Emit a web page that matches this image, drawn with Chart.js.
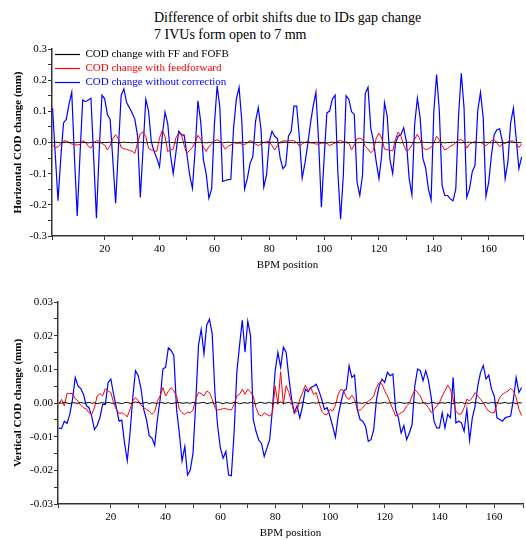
<!DOCTYPE html>
<html>
<head>
<meta charset="utf-8">
<script src="https://cdn.jsdelivr.net/npm/chart.js@4.4.1/dist/chart.umd.min.js"></script>
<style>
  body { margin: 0; background: #fff; }
  #wrap { position: relative; width: 526px; height: 540px; overflow: hidden; background: #fff; }
  #title { position: absolute; left: 154px; top: 9px; font: 14px "Liberation Serif", serif; line-height: 17px; color: #000; white-space: nowrap; }
  #topChart { position: absolute; left: 0; top: 40px; }
  #bottomChart { position: absolute; left: 0; top: 292px; }
</style>
</head>
<body>
<div id="wrap">
  <div id="title">Difference of orbit shifts due to IDs gap change<br>7 IVUs form open to 7 mm</div>
  <canvas id="topChart" width="526" height="232"></canvas>
  <canvas id="bottomChart" width="526" height="248"></canvas>
</div>
<script>
// series names
const seriesNames = ['COD change with FF and FOFB', 'COD change with feedforward', 'COD change without correction'];

// horizontal COD change (mm), BPM 1..172
const hBlack = [
  0,0.001,0,-0.001,0,0.001,0,0,-0.001,0,
  0.001,0,0,-0.001,0,0.001,0,-0.001,0,0,
  0,0.001,0,0,-0.001,0,0.001,0,0,-0.001,
  0,0,0.001,0,-0.001,0,0,0.001,0,0,
  -0.001,0,0.001,0,0,-0.001,0,0,0.001,0,
  0,-0.001,0,0.001,0,0,-0.001,0,0.001,0,
  0,0,-0.001,0,0.001,0,0,-0.001,0,0.001,
  0,0,0.001,-0.001,0,0,0.001,0,-0.001,0,
  0.001,0,0,-0.001,0,0.001,0,0,-0.001,0,
  0,0.001,0,0,-0.001,0,0.001,0,0,0,
  -0.001,0,0.001,0,0,-0.001,0,0.001,0,0,
  0,-0.001,0,0,0.001,0,-0.001,0,0,0.001,
  0,0,-0.001,0,0.001,0,0,-0.001,0,0,
  0.001,0,0,-0.001,0,0.001,0,0,-0.001,0,
  0,0.001,0,-0.001,0,0,0.001,0,0,-0.001,
  0,0,0.001,0,-0.001,0,0,0.001,0,0,
  -0.001,0,0.001,0,0,-0.001,0,0.001,0,0,
  0,-0.001
];
const hRed = [
  -0.008,-0.016,-0.014,-0.005,0.005,0.005,0,-0.005,-0.007,-0.008,
  -0.006,0.006,0.001,-0.012,-0.018,-0.002,0.006,0.004,-0.003,-0.008,
  -0.024,-0.01,0.012,0.025,0.012,-0.016,-0.02,-0.022,-0.025,-0.028,
  -0.035,0,0.028,0.034,0.019,-0.019,-0.024,-0.026,-0.029,0.015,
  0.038,0.02,-0.029,-0.024,-0.021,0.015,0.03,0.025,-0.01,-0.035,
  -0.024,-0.016,0,0.023,0.01,-0.015,-0.029,-0.013,-0.005,0.005,
  0.009,0.004,-0.008,-0.022,-0.012,-0.008,0,-0.002,-0.002,-0.005,
  -0.007,-0.001,0.006,0.003,-0.005,-0.01,-0.005,0,0.003,0.003,
  -0.01,-0.024,-0.01,0.002,0.005,0.005,0.005,0.006,0.006,0,
  -0.012,-0.004,0,0.005,0,-0.002,-0.005,-0.005,-0.002,-0.002,
  -0.003,-0.01,-0.005,-0.002,0.004,0.006,0.003,-0.001,-0.002,-0.024,
  -0.008,0.012,0.014,0.01,-0.013,-0.021,-0.033,-0.025,0.014,0.03,
  0.014,-0.021,-0.023,-0.025,-0.027,0.01,0.034,0.02,-0.008,-0.027,
  -0.022,-0.008,0.01,0.027,0.009,-0.015,-0.024,-0.02,-0.016,-0.002,
  0.02,0.009,-0.01,-0.024,-0.019,-0.012,-0.008,0,0.008,0.009,
  0.003,-0.018,-0.005,0,0.003,0,0,-0.005,-0.01,-0.002,
  0.006,0.009,-0.002,-0.013,-0.005,-0.002,0.003,0.005,0.005,-0.002,
  -0.016,-0.005
];
const hBlue = [
  0.11,-0.04,-0.187,-0.05,0.063,0.074,0.123,0.161,-0.05,-0.236,
  -0.04,0.136,0.131,0.136,0.142,-0.05,-0.243,-0.03,0.152,0.14,
  0.09,0.074,-0.06,-0.195,-0.02,0.15,0.172,0.128,0.112,0.095,
  0.075,0.02,-0.176,-0.02,0.139,0.101,0.003,-0.029,-0.05,-0.078,
  0.02,0.098,0.06,-0.04,-0.1,-0.03,0.036,0.025,0.023,-0.04,
  -0.105,-0.147,-0.02,0.134,0.068,-0.056,-0.1,-0.179,-0.149,0.058,
  0.182,0.112,-0.125,-0.122,-0.119,-0.118,0.047,0.139,0.177,0.068,
  -0.149,-0.116,-0.067,-0.046,0.068,0.112,0.041,-0.143,-0.105,0.003,
  0.036,0.02,0.012,-0.051,-0.084,-0.073,0.02,0.036,0.117,0.117,
  0.014,-0.114,-0.067,-0.008,0.06,0.117,0.161,0.003,-0.208,-0.051,
  0.095,0.101,0.139,0.152,-0.094,-0.246,-0.105,0.15,0.139,0.099,
  0.09,-0.127,-0.17,-0.105,0.157,0.177,0.047,0.003,-0.062,-0.116,
  -0.04,0.128,0.085,-0.056,-0.1,-0.002,0.02,0.025,0.047,0.003,
  -0.116,-0.168,0.058,0.142,0.079,-0.051,-0.081,-0.149,-0.184,0.101,
  0.218,0.101,-0.138,-0.17,-0.17,-0.181,-0.187,-0.149,0.085,0.222,
  0.112,-0.176,-0.149,-0.094,-0.073,0.101,0.161,0.079,-0.173,-0.127,
  -0.04,0.025,0.041,0.044,0.003,-0.116,-0.062,0.063,0.11,0.014,
  -0.084,-0.046
];

// vertical COD change (mm), BPM 1..170
const vBlack = [
  0.0001,-0.0001,0.0002,0,-0.0002,0.0001,0,-0.0001,0.0002,-0.0001,
  0,0.0002,-0.0001,0.0001,-0.0002,0,0.0001,-0.0001,0.0002,0,
  -0.0001,0.0001,0,-0.0002,0.0001,0.0002,-0.0001,0,0.0003,0.0001,
  -0.0001,0,0.0002,-0.0002,0.0001,0,-0.0001,0.0002,0,-0.0001,
  0.0001,-0.0002,0,0.0001,0.0002,-0.0001,0,0.0001,-0.0001,0.0002,
  0,-0.0001,0.0001,0.0002,-0.0002,0,0.0001,-0.0001,0.0003,0,
  -0.0002,0.0001,0,-0.0001,0.0002,0.0001,-0.0002,0,0.0001,-0.0001,
  0.0002,0,-0.0003,0.0001,0.0002,-0.0001,0,0.0002,-0.0002,0.0001,
  0,0.0003,-0.0001,0,0.0002,-0.0002,0.0001,0,-0.0001,0.0002,
  0.0001,-0.0002,0,0.0001,-0.0001,0.0002,0,-0.0001,0.0001,0,
  -0.0002,0.0001,0.0002,0,-0.0001,0.0001,-0.0002,0,0.0002,0.0001,
  0,-0.0001,0.0002,-0.0002,0.0001,0,0.0001,-0.0001,0,0.0002,
  -0.0001,0.0001,0,-0.0002,0.0002,0.0001,-0.0001,0,0.0001,-0.0002,
  0.0002,0,-0.0001,0.0001,0,-0.0002,0.0002,0.0001,-0.0001,0,
  0.0001,-0.0001,0.0002,0,-0.0002,0.0001,0,0.0002,-0.0001,0,
  -0.0001,0.0002,0,0.0001,-0.0002,0,0.0001,-0.0001,0.0002,0,
  0.0001,-0.0001,0,0.0002,-0.0001,0,0.0001,-0.0002,0.0001,0
];
const vRed = [
  -0.0004,0.0011,-0.0009,0.0028,0.0028,0.0028,0.0013,0.0006,-0.0007,-0.0014,
  -0.0017,-0.0029,-0.0034,-0.0014,0.0021,0.0028,0.0021,0.0043,0.0036,0.0031,
  0.0001,-0.0019,-0.0032,-0.0029,-0.0034,-0.0041,-0.0019,0.0006,0.0016,0.0006,
  -0.0006,-0.0014,-0.0019,-0.0024,-0.0034,-0.0026,0.0006,0.0021,0.0046,0.0021,
  0.0035,0.0046,0.0036,0.0021,-0.0019,-0.0029,-0.0034,-0.0027,-0.0029,-0.0021,
  0.0011,0.0031,0.0028,0.0021,0.0035,0.0031,0.0011,-0.0014,-0.0021,-0.0019,
  -0.0017,-0.0017,-0.0019,-0.0021,-0.0004,0.0021,0.0026,0.0041,0.0026,0.0041,
  0.0033,0.0021,-0.0014,-0.0034,-0.0039,-0.0029,-0.0034,-0.0039,-0.0029,0.0051,
  -0.0004,0.0093,-0.0004,0.0051,0.0031,0.0001,-0.0031,-0.0024,0.0011,0.0031,
  0.0053,0.0036,0.0046,0.0026,0.0031,0.0001,-0.0024,-0.0034,-0.0034,-0.0019,
  -0.0024,-0.0007,0.0026,0.0041,0.0036,0.0016,0.0011,0.0023,0.0011,-0.0019,
  -0.0022,-0.0014,-0.0004,0.0006,0.0011,0.0021,0.0046,0.0061,0.0056,0.0036,
  0.0021,0.0001,-0.0019,-0.0039,-0.0034,-0.0029,-0.0024,-0.0009,-0.0001,0.0021,
  0.0039,0.0031,0.0021,0.0001,-0.0004,-0.0014,-0.0029,-0.0019,-0.0009,0.0001,
  0.0021,0.0036,0.0053,0.0041,0.0011,-0.0024,-0.0034,-0.0032,-0.0014,0.0011,
  0.0006,0.0016,0.0031,0.0021,0.0011,0.0001,-0.0014,-0.0024,-0.0029,-0.0029,
  -0.0004,0.0016,0.0026,0.0031,0.0036,0.0043,0.0036,0.0016,-0.0019,-0.0037
];
const vBlue = [
  -0.0074,-0.0076,-0.0054,-0.0061,-0.0034,0.0011,0.0076,0.0051,0.0043,0.0026,
  -0.0007,-0.0014,-0.0039,-0.0079,-0.0067,-0.0044,-0.0004,-0.0004,0.0061,0.0071,
  0.0026,-0.0014,-0.0054,-0.0051,-0.0119,-0.0171,-0.0089,0.0016,0.0096,0.0081,
  0.0043,-0.0019,-0.0049,-0.0097,-0.0104,-0.0126,-0.0049,0.0011,0.0101,0.0106,
  0.0164,0.0156,0.0141,-0.0019,-0.0089,-0.0172,-0.0129,-0.0214,-0.0199,-0.0149,
  0.0001,0.0171,0.0219,0.0146,0.0231,0.0249,0.0206,0.0031,-0.0069,-0.0134,
  -0.0164,-0.0144,-0.0214,-0.0216,-0.0089,0.0091,0.0171,0.0246,0.0151,0.0243,
  0.02,-0.0049,-0.0084,-0.011,-0.012,-0.0159,-0.0134,-0.0109,-0.0019,0.0096,
  0.015,0.0106,0.0166,0.0151,0.0076,0.0011,-0.0029,-0.0009,-0.0044,-0.0009,
  0.0041,0.0033,0.0046,0.005,0.0056,0.0036,0.0011,-0.0019,-0.0014,-0.0039,
  -0.0069,-0.0102,-0.0039,0.0001,0.0036,0.0041,0.0111,0.0076,0.0083,-0.0019,
  -0.0049,-0.0054,-0.0069,-0.0114,-0.0109,-0.0079,0.0011,0.0051,0.0071,0.0061,
  0.0091,0.0081,0.0086,-0.002,-0.0044,-0.0089,-0.0067,-0.0109,-0.0089,-0.0064,
  0.0051,0.0101,0.0096,0.0066,0.0096,0.0066,0.0016,-0.0054,-0.0074,-0.0074,
  -0.0029,-0.0074,-0.0034,-0.0044,0.0076,-0.0059,-0.0054,-0.0059,-0.0084,-0.0019,
  -0.0111,-0.0044,-0.0009,0.0051,0.0091,0.0111,0.0071,0.0083,0.0041,0.0021,
  -0.0044,-0.0049,-0.0054,-0.0044,-0.0041,-0.0039,0.0011,0.0076,0.0031,0.0046
];

const serif = '"Liberation Serif", "Times New Roman", serif';
const axisColor = '#333';

// pair each value with its BPM position (1-based)
function toPoints(values) {
    return values.map((v, i) => ({ x: i + 1, y: v }));
}

function lineSet(label, values, color, width) {
    return {
        label: label,
        data: toPoints(values),
        borderColor: color,
        backgroundColor: color,
        borderWidth: width,
        pointRadius: 0,
        tension: 0,
        fill: false
    };
}

function xScale(min, max) {
    return {
        type: 'linear',
        min: min,
        max: max,
        ticks: {
            stepSize: 10,
            autoSkip: false,
            maxRotation: 0,
            padding: 3,
            color: '#000',
            font: { family: serif, size: 11 },
            callback: (v) => (Math.abs(v % 20) < 1e-6 && v > 0) ? String(v) : ''
        },
        grid: { drawOnChartArea: false, tickLength: 4, color: axisColor },
        border: { color: axisColor, width: 1.5 },
        title: { display: true, text: 'BPM position', color: '#000', font: { family: serif, size: 11 }, padding: 0 },
        afterFit: (scale) => { scale.height = 36; }
    };
}

function yScale(limit, step, digits, titleText, width) {
    return {
        min: -limit,
        max: limit,
        ticks: {
            stepSize: step,
            autoSkip: false,
            padding: 1,
            color: '#000',
            font: { family: serif, size: 11 },
            callback: (v) => {
                let major = Math.round(v / (step * 2));
                if (Math.abs(v - major * step * 2) > step / 10) return '';
                return v.toFixed(digits);
            }
        },
        grid: { drawOnChartArea: false, tickLength: 4, color: axisColor },
        border: { color: axisColor, width: 1.5 },
        title: { display: true, text: titleText, color: '#000', font: { family: serif, size: 11, weight: 'bold' }, padding: { top: 12, bottom: 0 } },
        afterFit: (scale) => { scale.width = width; }
    };
}

const topCtx = document.getElementById('topChart').getContext('2d');
window.topChart = new Chart(topCtx, {
    type: 'line',
    data: {
        datasets: [
            lineSet(seriesNames[0], hBlack, '#000000', 1),
            lineSet(seriesNames[1], hRed, '#ff0000', 1),
            lineSet(seriesNames[2], hBlue, '#0000ff', 1.2)
        ]
    },
    options: {
        responsive: false,
        animation: false,
        layout: { padding: { top: 9, right: 0, left: 0, bottom: 0 } },
        scales: {
            x: xScale(0.8, 172.5),
            y: yScale(0.3, 0.05, 1, 'Horizontal COD change (mm)', 52)
        },
        plugins: {
            tooltip: { enabled: false },
            legend: {
                position: 'chartArea',
                align: 'start',
                // empty title only pushes the items down inside the plot
                title: { display: true, text: ' ', font: { size: 5 }, padding: 0 },
                labels: {
                    usePointStyle: true,
                    pointStyle: 'line',
                    pointStyleWidth: 25,
                    padding: 3,
                    font: { family: serif, size: 11 },
                    generateLabels: (chart) => chart.data.datasets.map((ds, i) => ({
                        text: ds.label,
                        fillStyle: ds.borderColor,
                        strokeStyle: ds.borderColor,
                        fontColor: ds.borderColor,
                        lineWidth: 1.2,
                        pointStyle: 'line',
                        hidden: false,
                        datasetIndex: i
                    }))
                }
            }
        }
    }
});

const bottomCtx = document.getElementById('bottomChart').getContext('2d');
window.bottomChart = new Chart(bottomCtx, {
    type: 'line',
    data: {
        datasets: [
            lineSet(seriesNames[0], vBlack, '#000000', 1),
            lineSet(seriesNames[1], vRed, '#ff0000', 1),
            lineSet(seriesNames[2], vBlue, '#0000ff', 1.2)
        ]
    },
    options: {
        responsive: false,
        animation: false,
        layout: { padding: { top: 10, right: 0, left: 0, bottom: 0 } },
        scales: {
            x: xScale(0.7, 170.5),
            y: yScale(0.03, 0.005, 2, 'Vertical COD change (mm)', 58)
        },
        plugins: {
            tooltip: { enabled: false },
            legend: { display: false }
        }
    }
});
</script>
</body>
</html>
